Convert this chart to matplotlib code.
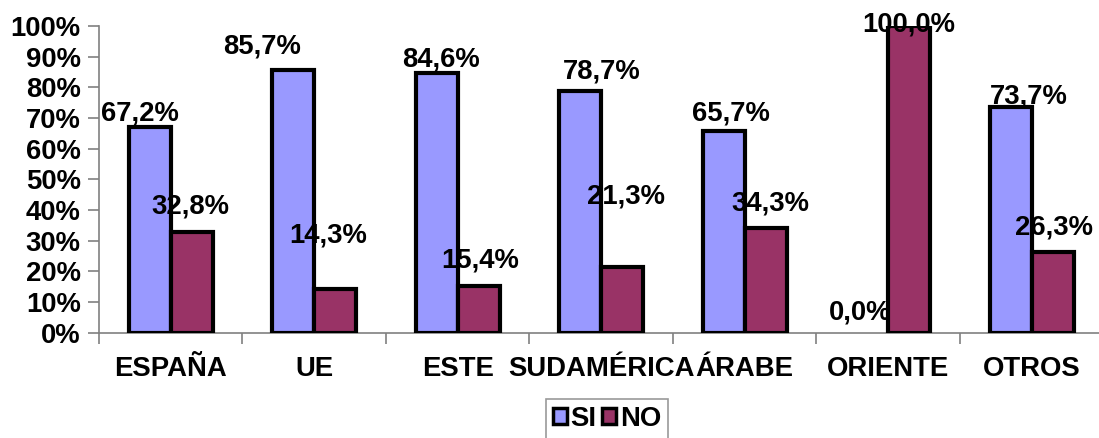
import matplotlib
matplotlib.use("Agg")
import matplotlib.pyplot as plt
import numpy as np

categories = ["ESPAÑA", "UE", "ESTE", "SUDAMÉRICA", "ÁRABE", "ORIENTE", "OTROS"]
si_values = [67.2, 85.7, 84.6, 78.7, 65.7, 0.0, 73.7]
no_values = [32.8, 14.3, 15.4, 21.3, 34.3, 100.0, 26.3]
series_names = ["SI", "NO"]

# label offsets (dx in category units relative to bar center, dy in % relative to bar top)
si_label_off = [(-0.07, 4.1), (-0.22, 7.5), (0.03, 4.3), (0.15, 6.3), (0.05, 5.6), (-0.05, 6.8), (0.13, 3.2)]
no_label_off = [(-0.01, 8.2), (-0.05, 17.3), (0.01, 8.1), (0.03, 23.0), (0.03, 8.0), (0.0, 0.3), (0.01, 8.1)]

plt.rcParams['font.family'] = ['Liberation Sans', 'DejaVu Sans']
FS = 19.8

fig = plt.figure(figsize=(10.99, 4.38), dpi=100)
ax = fig.add_axes([0.090, 0.240, 0.914, 0.701])

x = np.arange(len(categories))
w = 0.293
si_color = "#9999FF"
no_color = "#993366"
si_lw = [3 if v > 0 else 0 for v in si_values]
no_lw = [3 if v > 0 else 0 for v in no_values]
b1 = ax.bar(x - w/2, si_values, w, color=si_color, edgecolor="black", linewidth=si_lw, label=series_names[0], zorder=3)
b2 = ax.bar(x + w/2, no_values, w, color=no_color, edgecolor="black", linewidth=no_lw, label=series_names[1], zorder=3)

def fmt(v):
    return f"{v:.1f}".replace(".", ",") + "%"

for i, v in enumerate(si_values):
    dx, dy = si_label_off[i]
    ax.text(x[i] - w/2 + dx, v + dy, fmt(v), ha="center", va="center", fontsize=FS, fontweight="bold", zorder=5)
for i, v in enumerate(no_values):
    dx, dy = no_label_off[i]
    ax.text(x[i] + w/2 + dx, v + dy, fmt(v), ha="center", va="center", fontsize=FS, fontweight="bold", zorder=5)

ax.set_xlim(-0.5, len(categories) - 0.5)
ax.set_ylim(0, 100)
ax.set_yticks(np.arange(0, 101, 10))
ax.set_yticklabels([f"{t}%" for t in range(0, 101, 10)], fontsize=FS, fontweight="bold")
ax.set_xticks(x)
ax.set_xticklabels(categories, fontsize=FS, fontweight="bold")
ax.set_xticks(np.arange(-0.5, len(categories), 1), minor=True)
ax.tick_params(axis="x", which="major", length=0, pad=17)
ax.tick_params(axis="x", which="minor", length=8, color="#808080", width=1.2)
ax.tick_params(axis="y", length=8, color="#808080", width=1.2, pad=5)

for s in ["top", "right"]:
    ax.spines[s].set_visible(False)
for s in ["left", "bottom"]:
    ax.spines[s].set_color("#808080")
    ax.spines[s].set_linewidth(1.2)

leg = fig.legend(handles=[b1, b2], labels=series_names, loc="center",
                 bbox_to_anchor=(607/1099, 1 - 419/438), ncol=2, frameon=True,
                 fancybox=False, edgecolor="#808080",
                 prop={"weight": "bold", "size": FS}, handlelength=0.5, handleheight=0.5,
                 handletextpad=0.15, columnspacing=0.2, borderpad=0.25, borderaxespad=0)
leg.get_frame().set_linewidth(1.2)
for h in leg.legend_handles:
    h.set_linewidth(2.5)

fig.savefig("out.png", dpi=100)
